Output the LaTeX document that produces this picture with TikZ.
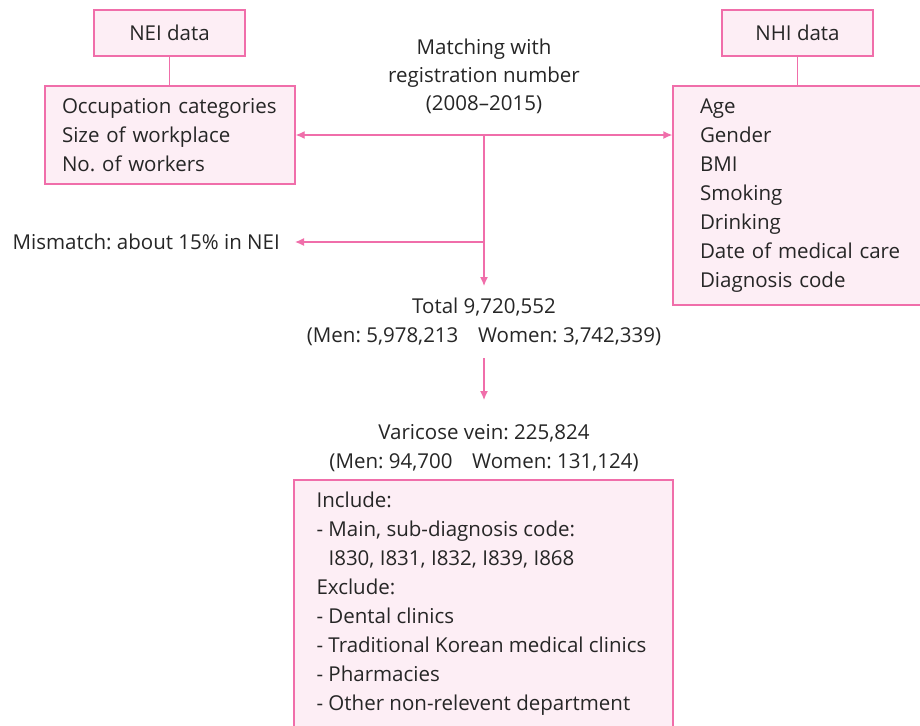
\documentclass[tikz,border=0pt]{standalone}
\usepackage{fontspec}
\setmainfont{Open Sans}
\usetikzlibrary{arrows.meta,calc}
\definecolor{pinkline}{HTML}{F06EAA}
\definecolor{pinkfill}{HTML}{FDEEF5}
\definecolor{txt}{HTML}{262626}
\newcommand\myfs{\fontsize{20.5}{29}\selectfont\frenchspacing}
\begin{document}
\begin{tikzpicture}[x=1pt,y=-1pt,
  box/.style={draw=pinkline, fill=pinkfill, line width=1.3pt, text=txt, font=\myfs},
  lbl/.style={text=txt, font=\myfs, align=center},
  arr/.style={draw=pinkline, line width=1.3pt, -{Latex[length=9pt,width=8pt]}},
  darr/.style={draw=pinkline, line width=1.3pt, {Latex[length=9pt,width=8pt]}-{Latex[length=9pt,width=8pt]}},
  conn/.style={draw=pinkline, line width=1.3pt}]
\clip (0,0) rectangle (920,725);
\fill[white] (0,0) rectangle (920,725);
% top boxes
\node[box, minimum width=151, minimum height=46] (nei) at (169.5,33) {NEI data};
\node[box, minimum width=151, minimum height=46] (nhi) at (797.5,33) {NHI data};
\node[box, minimum width=250, minimum height=98, text width=216, inner xsep=17, align=left] (neilist) at (170,135)
  {Occupation categories\\Size of workplace\\No. of workers};
\node[box, minimum width=272, minimum height=219, text width=218, inner xsep=27, align=left] (nhilist) at (809,195.5)
  {Age\\Gender\\BMI\\Smoking\\Drinking\\Date of medical care\\Diagnosis code};
\draw[conn] (nei.south) -- (nei.south |- neilist.north);
\draw[conn] (nhi.south) -- (nhi.south |- nhilist.north);
% matching
\node[lbl, font=\fontsize{20.5}{28}\selectfont] (match) at (484,76) {Matching with\\registration number\\(2008–2015)};
\coordinate (split) at (484,135);
\coordinate (split2) at (484,242);
\draw[darr] (neilist.east) -- (neilist.east -| nhilist.west);
\node[lbl, anchor=east, inner xsep=15] (mis) at (295,242) {Mismatch: about 15\% in NEI};
\draw[arr] (split2) -- (mis.east);
\node[lbl, anchor=north, inner ysep=12] (total) at (484,286)
  {Total 9,720,552\\(Men: 5,978,213\hspace{0.7em} Women: 3,742,339)};
\draw[arr] (split) -- (total.north);
\node[lbl, anchor=north, inner ysep=24] (vari) at (484,400)
  {Varicose vein: 225,824\\(Men: 94,700\hspace{0.7em} Women: 131,124)};
\draw[arr] (total.south) -- (vari.north);
% criteria
\node[box, minimum width=379, minimum height=248] (crit) at (483.5,604) {};
\node[text=txt, font=\myfs, align=left, anchor=west, inner sep=0] (crittext) at ($(crit.west)+(23,0)$)
  {Include:\\- Main, sub-diagnosis code:\\\hspace*{12pt}I830, I831, I832, I839, I868\\Exclude:\\- Dental clinics\\- Traditional Korean medical clinics\\- Pharmacies\\- Other non-relevent department};
\end{tikzpicture}
\end{document}
